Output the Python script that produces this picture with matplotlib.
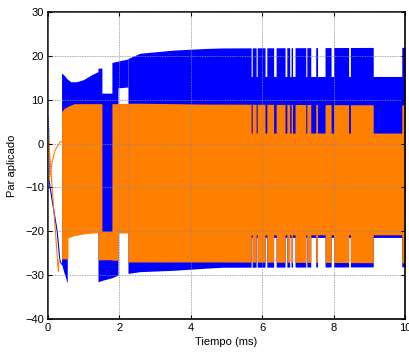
import numpy as np
import matplotlib.pyplot as plt

plt.rcParams['font.family'] = ['Liberation Sans', 'DejaVu Sans']

AZUL = '#0000ff'
NARANJA = '#ff8000'

# --- arranque: trazas finas antes de que empiece la conmutacion ---
azul_ini_x = [0.0, 0.01, 0.02, 0.03, 0.26, 0.33, 0.38]
azul_ini_y = [0.0, 6.0, 2.6, -8.5, -20.2, -26.5, -27.5]
nar_a_x = [0.0, 0.01, 0.02, 0.05, 0.12, 0.20, 0.34, 0.38]
nar_a_y = [0.0, 2.6, -8.3, -7.6, -4.0, -1.5, 0.4, 0.4]
nar_b_x = [0.01, 0.04, 0.29, 0.31]
nar_b_y = [2.6, -1.5, -29.2, -26.3]

# --- tramo inicial irregular (envolventes min/max de cada par) ---
azul_t1_x   = [0.38, 0.45, 0.54, 0.54, 0.64, 0.80, 1.00, 1.20, 1.40, 1.40, 1.51, 1.51, 1.79, 1.79, 1.96, 1.96, 2.24]
azul_t1_max = [16.1, 15.6, 14.7, 14.7, 14.1, 14.1, 14.6, 15.6, 16.4, 17.2, 17.2, 11.5, 11.5, 18.5, 18.8, 18.8, 19.3]
azul_t1_min = [-27.5, -29.5, -31.8, -20.0, -20.0, -20.0, -20.0, -20.0, -20.0, -31.5, -31.2, -31.2, -30.6, -30.6, -30.0, 12.7, 12.9]

nar_t1_x   = [0.38, 0.45, 0.56, 0.56, 0.73, 1.00, 1.40, 1.40, 1.51, 1.51, 1.79, 1.79, 1.96, 1.96, 2.24]
nar_t1_max = [7.3, 8.0, 8.5, 8.5, 9.1, 9.1, 9.1, 9.1, 9.1, -20.0, -20.0, 9.1, 9.1, 9.1, 9.2]
nar_t1_min = [-26.3, -26.3, -26.3, -21.5, -21.0, -20.6, -20.3, -26.5, -26.5, -26.5, -26.5, -26.6, -26.6, -20.4, -20.4]

# --- regimen permanente ---
perm_x       = [2.24, 2.58, 3.50, 4.45, 4.90, 10.0]
azul_p_max   = [19.4, 20.6, 21.3, 21.7, 21.8, 21.95]
azul_p_min   = [-29.6, -29.2, -28.9, -28.4, -28.2, -28.1]
nar_p_max    = [9.2, 9.2, 9.1, 9.0, 9.0, 8.8]
nar_p_min    = [-27.0, -27.0, -27.0, -27.0, -27.0, -27.2]

# intervalos en los que la conmutacion se reduce
hueco_ini = [5.69, 5.83, 6.08, 6.32, 6.64, 6.77, 6.85, 7.22, 7.36, 7.55, 7.93, 8.42, 9.11]
hueco_fin = [5.72, 5.86, 6.13, 6.39, 6.69, 6.81, 6.92, 7.25, 7.50, 7.76, 8.00, 8.47, 9.91]
azul_h_max, azul_h_min = 15.3, -21.4
nar_h_max, nar_h_min = 2.4, -20.8


def con_huecos(env_max, env_min, h_max, h_min):
    xs = [x for x in perm_x
          if not any(a < x < b for a, b in zip(hueco_ini, hueco_fin))]
    pts = [(x, np.interp(x, perm_x, env_max), np.interp(x, perm_x, env_min)) for x in xs]
    for a, b in zip(hueco_ini, hueco_fin):
        pts.append((a, np.interp(a, perm_x, env_max), np.interp(a, perm_x, env_min)))
        pts.append((a, h_max, h_min))
        pts.append((b, h_max, h_min))
        pts.append((b, np.interp(b, perm_x, env_max), np.interp(b, perm_x, env_min)))
    pts.sort(key=lambda p: p[0])
    pts = np.array(pts)
    return pts[:, 0], pts[:, 1], pts[:, 2]


fig = plt.figure(figsize=(4.09, 3.58), dpi=100)
ax = fig.add_axes([48 / 409, 39 / 358, 357 / 409, 307 / 358])

# par 1 (azul)
ax.plot(azul_ini_x, azul_ini_y, color=AZUL, lw=0.8)
ax.fill_between(azul_t1_x, azul_t1_min, azul_t1_max, color=AZUL, lw=0)
x, hi, lo = con_huecos(azul_p_max, azul_p_min, azul_h_max, azul_h_min)
ax.fill_between(x, lo, hi, color=AZUL, lw=0)

# par 2 (naranja), encima
ax.plot(nar_a_x, nar_a_y, color=NARANJA, lw=0.8)
ax.plot(nar_b_x, nar_b_y, color=NARANJA, lw=0.8)
ax.fill_between(nar_t1_x, nar_t1_min, nar_t1_max, color=NARANJA, lw=0)
x, hi, lo = con_huecos(nar_p_max, nar_p_min, nar_h_max, nar_h_min)
ax.fill_between(x, lo, hi, color=NARANJA, lw=0)

ax.set_xlim(0, 10)
ax.set_ylim(-40, 30)
ax.set_xticks(np.arange(0, 11, 2))
ax.set_yticks(np.arange(-40, 31, 10))
ax.grid(True, color='0.55', linestyle=(0, (1, 1)), linewidth=0.6)
ax.set_axisbelow(False)
ax.tick_params(direction='in', top=True, right=True, length=3, width=0.8,
               labelsize=8, pad=3)
for s in ax.spines.values():
    s.set_linewidth(1.2)

ax.set_xlabel('Tiempo (ms)', fontsize=8, labelpad=3)
ax.set_ylabel('Par aplicado', fontsize=8, labelpad=6)

fig.savefig('out.png', dpi=100)
